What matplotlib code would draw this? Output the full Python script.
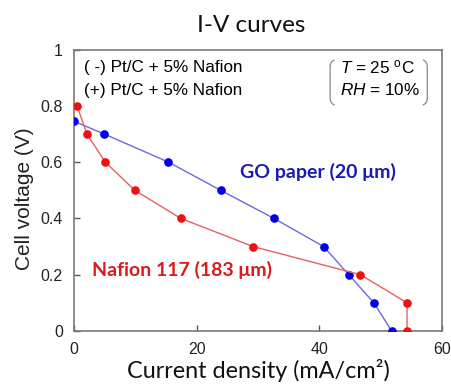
import matplotlib
matplotlib.use("Agg")
import matplotlib.pyplot as plt
from matplotlib.path import Path
from matplotlib.patches import PathPatch

plt.rcParams["mathtext.fontset"] = "custom"
plt.rcParams["mathtext.it"] = "Liberation Sans:italic"
plt.rcParams["mathtext.rm"] = "Liberation Sans"

nafion_j = [0.5, 2.1, 5.1, 9.9, 17.4, 29.2, 46.7, 54.3, 54.3]
nafion_v = [0.8, 0.7, 0.6, 0.5, 0.4, 0.3, 0.2, 0.1, 0.0]
go_j = [0.0, 4.9, 15.4, 23.9, 32.6, 40.7, 44.8, 48.9, 51.8]
go_v = [0.745, 0.7, 0.6, 0.5, 0.4, 0.3, 0.2, 0.1, 0.0]
xticks = [0, 20, 40, 60]
xtick_labels = ["0", "20", "40", "60"]
yticks = [0, 0.2, 0.4, 0.6, 0.8, 1]
ytick_labels = ["0", "0.2", "0.4", "0.6", "0.8", "1"]

W, H = 452, 387
fig = plt.figure(figsize=(W / 100, H / 100), dpi=100)
ax = fig.add_axes([74 / W, 1 - 331 / H, 368 / W, (331 - 49.5) / H])

ax.plot(go_j, go_v, color="#6a6ae0", lw=1.0, marker="o", ms=5.2,
        mfc="#0000ee", mec="#0000ee", zorder=3)
ax.plot(nafion_j, nafion_v, color="#e86060", lw=1.0, marker="o", ms=5.2,
        mfc="#ee1111", mec="#ee1111", zorder=3)

ax.set_xlim(0, 60)
ax.set_ylim(0, 1)
ax.set_xticks(xticks)
ax.set_xticklabels(xtick_labels, family="Liberation Sans", fontsize=11.5,
                   color="#222222")
ax.set_yticks(yticks)
ax.set_yticklabels(ytick_labels, family="Liberation Sans", fontsize=11.5,
                   color="#222222")
ax.tick_params(direction="in", length=4, width=1, color="#555555", pad=8)
for s in ax.spines.values():
    s.set_color("#7a7a7a")
    s.set_linewidth(1.2)

ax.set_xlabel("Current density (mA/cm\u00b2)", family="Lato", fontsize=16.8,
              labelpad=1, color="#111111")
ax.set_ylabel("Cell voltage (V)", family="Liberation Sans", fontsize=15,
              color="#222222")
ax.yaxis.set_label_coords(-0.11, 0.47)
fig.text(251 / W, 1 - 25 / H, "I-V curves", family="Lato", fontsize=17.5,
         ha="center", va="center", color="#111111")

ax.text(0.027, 0.935, "( -) Pt/C + 5% Nafion", transform=ax.transAxes,
        family="Liberation Sans", fontsize=12.3, va="center", ha="left")
ax.text(0.027, 0.856, "(+) Pt/C + 5% Nafion", transform=ax.transAxes,
        family="Liberation Sans", fontsize=12.3, va="center", ha="left")
ax.text(0.722, 0.935, "$T$ = 25 $^{\\rm o}$C", transform=ax.transAxes,
        family="Liberation Sans", fontsize=12.3, va="center", ha="left")
ax.text(0.722, 0.856, "$RH$ = 10%", transform=ax.transAxes,
        family="Liberation Sans", fontsize=12.3, va="center", ha="left")

def bracket(x, side):
    y0, y1, c = 0.803, 0.963, 0.012
    d = c * side
    verts = [(x + d, y1), (x, y1 - 0.005), (x, y1 - 0.025),
             (x, y0 + 0.025), (x, y0 + 0.005), (x + d, y0)]
    codes = [Path.MOVETO, Path.CURVE3, Path.CURVE3,
             Path.LINETO, Path.CURVE3, Path.CURVE3]
    ax.add_patch(PathPatch(Path(verts, codes), transform=ax.transAxes,
                           fill=False, ec="#888888", lw=0.9))

bracket(0.696, 1)
bracket(0.960, -1)

ax.text(27.0, 0.565, "GO paper (20 \u03bcm)", family="Lato",
        fontweight="bold", fontsize=14, color="#1a1ab4",
        va="center", ha="left")
ax.text(3.0, 0.218, "Nafion 117 (183 \u03bcm)", family="Lato",
        fontweight="bold", fontsize=14, color="#dd1a1a",
        va="center", ha="left")

fig.savefig("out.png", dpi=100)
